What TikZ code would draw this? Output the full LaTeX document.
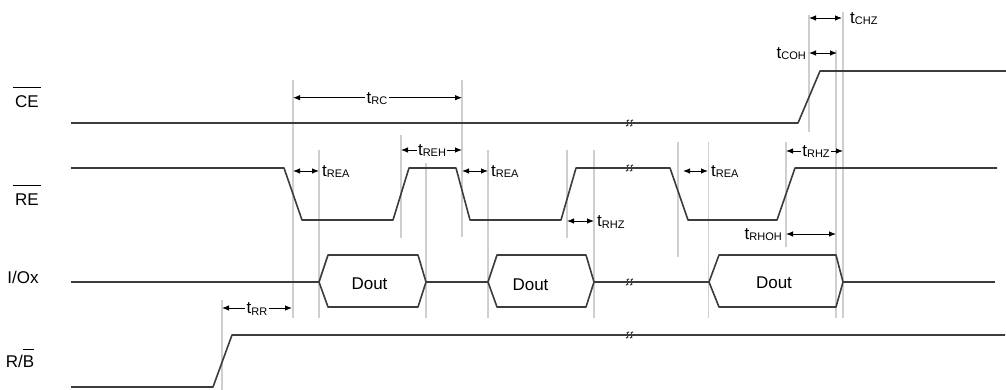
\documentclass[tikz,border=0pt]{standalone}
\usepackage{fontspec}
\setmainfont{Liberation Sans}
\usetikzlibrary{arrows.meta,calc}
\definecolor{sigc}{HTML}{3C3C3C}
\definecolor{guidec}{HTML}{CFCFCF}
\newcommand\tsb[1]{t\raisebox{-1.5pt}{\fontsize{11}{12}\selectfont #1}}
\begin{document}
\begin{tikzpicture}[x=1pt,y=-1pt,
  sig/.style={draw=sigc,line width=1.6pt,line join=round},
  guide/.style={draw=guidec,line width=1.2pt},
  dim/.style={{Latex[length=7pt,width=5.5pt]}-{Latex[length=7pt,width=5.5pt]},line width=0.9pt,draw=black},
  lbl/.style={font=\fontsize{17}{20}\selectfont,inner sep=1pt},
  tl/.style={lbl,fill=white,inner sep=1.5pt},
  brk/.style={draw=sigc,line width=1.1pt},
  brkpic/.pic={
    \draw[brk] (0,-3) .. controls (-4.5,-4) and (1.5,4) .. (-3,3);
    \draw[brk] (4,-3) .. controls (-0.5,-4) and (5.5,4) .. (1,3);
  }]
\useasboundingbox (0,0) rectangle (1006,390);
\fill[white] (0,0) rectangle (1006,390);

% guide lines
\draw[guide] (222,300) -- (222,390);
\draw[guide] (293,80) -- (293,318);
\draw[guide] (319,150) -- (319,318);
\draw[guide] (401,135) -- (401,238);
\draw[guide] (426,163) -- (426,318);
\draw[guide] (462,80) -- (462,237);
\draw[guide] (488,150) -- (488,318);
\draw[guide] (567,150) -- (567,238);
\draw[guide] (594,150) -- (594,318);
\draw[guide] (678,142) -- (678,257);
\draw[guide] (708.5,142) -- (708.5,318);
\draw[guide] (786,142) -- (786,247);
\draw[guide] (809,15) -- (809,132);
\draw[guide] (836,50) -- (836,318);
\draw[guide] (843,12) -- (843,318);

% signal names
\node[lbl,anchor=base,inner sep=2pt] (ce) at (27,108) {CE};
\draw[line width=1pt] ([yshift=6pt]ce.north west) -- ([yshift=6pt]ce.north east);
\node[lbl,anchor=base,inner sep=2pt] (re) at (27,205) {RE};
\draw[line width=1pt] ([yshift=6pt]re.north west) -- ([yshift=6pt]re.north east);
\node[lbl,anchor=base] (io) at (23,283) {I/Ox};
\node[lbl,anchor=base] (rb) at (20,367) {R/\makebox[0pt][l]{\rule[17.5pt]{11.3pt}{1pt}}B};

% CE
\draw[sig] (71,123) -- (798,123) -- (820,71) -- (1006,71);
% RE
\draw[sig] (71,168) -- (284,168) -- (302,220) -- (393,220) -- (409,168) -- (456,168)
  -- (470,220) -- (561,220) -- (576,168) -- (670,168) -- (688,220) -- (777,220)
  -- (795,168) -- (997,168);
% I/O
\draw[sig] (71,282) -- (319,282);
\draw[sig] (426,282) -- (488,282);
\draw[sig] (594,282) -- (709,282);
\draw[sig] (843,282) -- (995,282);
\draw[sig] (319,282) -- (328,255) -- (418,255) -- (426,282) -- (418,307) -- (328,307) -- cycle;
\draw[sig] (488,282) -- (497,255) -- (586,255) -- (594,282) -- (586,307) -- (497,307) -- cycle;
\draw[sig] (709,282) -- (719,255) -- (836,255) -- (843,282) -- (836,307) -- (719,307) -- cycle;
\node[lbl,anchor=base] (d1) at (369.5,289.5) {Dout};
\node[lbl,anchor=base] (d2) at (530.5,290) {Dout};
\node[lbl,anchor=base] (d3) at (774,288) {Dout};
% R/B
\draw[sig] (71,387) -- (213,387) -- (232,335) -- (1005,335);

% breaks
\pic at (629,123) {brkpic};
\pic at (629,168) {brkpic};
\pic at (629,282) {brkpic};
\pic at (629,335) {brkpic};

% timing dimensions
\draw[dim] (293,97.7) -- (462,97.7);
\node[tl,anchor=base] (trc) at (377,103.2) {\tsb{RC}};
\draw[dim] (293,171) -- (319,171);
\node[lbl,anchor=base west] (trea1) at (321,176.5) {\tsb{REA}};
\draw[dim] (401,150) -- (462,150);
\node[tl,anchor=base] (treh) at (432,155.5) {\tsb{REH}};
\draw[dim] (462,171) -- (488,171);
\node[lbl,anchor=base west] (trea2) at (490,176.5) {\tsb{REA}};
\draw[dim] (567,221) -- (594,221);
\node[lbl,anchor=base west] (trhz1) at (596,226.5) {\tsb{RHZ}};
\draw[dim] (683,171) -- (708,171);
\node[lbl,anchor=base west] (trea3) at (710,176.5) {\tsb{REA}};
\draw[dim] (786,151) -- (843,151);
\node[tl,anchor=base] (trhz2) at (816,156.5) {\tsb{RHZ}};
\draw[dim] (786,234) -- (836,234);
\node[lbl,anchor=base east] (trhoh) at (783,239.5) {\tsb{RHOH}};
\draw[dim] (809,53) -- (837,53);
\node[lbl,anchor=base east] (tcoh) at (807,58.5) {\tsb{COH}};
\draw[dim] (809,18) -- (842,18);
\node[lbl,anchor=base west] (tchz) at (849,23.5) {\tsb{CHZ}};
\draw[dim] (222,308) -- (292,308);
\node[tl,anchor=base] (trr) at (257,313.5) {\tsb{RR}};
\end{tikzpicture}
\end{document}
